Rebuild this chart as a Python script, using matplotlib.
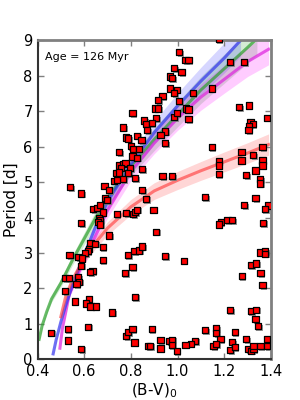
import matplotlib
matplotlib.use("Agg")
import matplotlib.pyplot as plt
import matplotlib.patheffects as pe

# ---- scatter data: (B-V)0 and rotation period [d] ----
bv = [
 0.807,0.856,0.866,0.869,0.767,0.779,0.787,0.827,0.846,0.799,0.810,0.836,0.749,0.807,0.827,0.749,
 0.767,0.777,0.757,0.796,0.847,0.736,0.749,0.788,0.817,0.767,0.727,0.739,0.539,0.587,0.687,0.707,
 0.848,0.689,0.697,0.864,0.639,0.657,0.667,0.679,0.664,0.667,0.659,0.667,0.587,0.739,0.779,0.810,
 0.818,0.826,0.707,0.627,0.647,0.619,0.615,0.679,0.603,0.537,0.576,0.589,0.679,0.586,0.636,0.626,
 0.519,0.536,0.574,0.577,0.567,0.519,0.774,0.787,0.816,0.836,0.847,0.807,0.559,0.619,0.607,0.627,
 0.649,0.719,0.817,0.529,0.617,0.459,0.529,0.587,0.779,0.787,0.807,0.816,0.874,
 1.176,1.007,1.034,1.047,1.224,1.285,0.985,1.017,0.967,0.976,0.967,0.996,1.146,0.985,1.065,0.936,
 0.917,1.007,0.904,0.916,1.036,1.047,1.264,1.305,0.907,0.985,0.996,1.047,1.384,0.889,0.947,0.927,
 0.946,1.146,1.313,1.322,1.305,1.304,1.274,1.324,1.364,1.176,1.176,1.274,1.364,1.364,1.176,1.295,
 1.334,0.936,0.976,1.354,1.354,1.117,1.334,1.285,1.390,1.374,0.897,1.185,1.176,1.214,1.235,1.365,
 0.907,0.946,1.026,1.354,1.374,1.376,1.314,1.335,1.355,1.275,1.364,1.224,1.314,1.335,1.334,1.344,
 0.889,1.117,1.165,1.165,1.245,1.295,1.384,1.184,0.927,0.964,0.976,1.075,1.056,1.034,1.235,1.154,
 1.165,0.881,0.927,0.976,0.996,1.225,1.245,1.304,1.315,1.325,1.325,1.355,1.384,
]
period = [
 6.95,6.74,6.65,6.46,6.54,6.26,6.23,6.31,6.18,6.01,5.93,5.93,5.84,5.72,5.69,5.47,
 5.52,5.54,5.40,5.40,5.37,5.25,5.27,5.26,5.11,5.09,5.04,5.07,4.86,4.68,4.90,4.77,
 4.77,4.54,4.50,4.53,4.24,4.27,4.35,4.14,3.97,3.92,3.88,3.80,3.85,4.10,4.13,4.10,
 4.16,4.22,3.49,3.27,3.26,3.12,3.05,3.16,3.00,2.94,2.88,2.84,2.79,2.64,2.48,2.46,
 2.29,2.29,2.31,2.19,2.13,1.93,2.44,2.94,3.05,3.07,3.18,2.61,1.63,1.70,1.57,1.49,
 1.49,1.32,1.76,0.85,0.92,0.75,0.53,0.29,0.66,0.76,0.85,0.47,0.38,
 9.03,8.67,8.44,8.44,8.39,8.39,8.21,8.10,7.98,7.93,7.64,7.61,7.64,7.52,7.52,7.43,
 7.31,7.29,7.08,7.08,7.08,7.05,7.11,7.16,6.80,6.84,6.94,6.77,6.82,6.67,6.43,6.34,
 6.10,5.99,6.68,6.64,6.59,6.46,5.86,5.76,5.98,5.58,5.47,5.61,5.61,5.47,5.23,5.19,
 5.33,5.17,5.17,5.08,4.96,4.58,4.54,4.35,4.34,4.23,4.22,3.88,3.80,3.93,3.93,3.85,
 3.60,2.92,2.78,3.01,3.04,2.98,2.66,2.70,2.43,2.35,2.09,1.38,1.36,1.40,1.14,0.93,
 0.86,0.82,0.88,0.74,0.77,0.57,0.56,0.57,0.54,0.51,0.55,0.52,0.44,0.41,0.48,0.38,
 0.42,0.38,0.30,0.40,0.23,0.25,0.35,0.29,0.24,0.29,0.38,0.38,0.38,
]

# ---- model curves ----
green_bv = [0.407,0.42,0.44,0.46,0.50,0.55,0.60,0.65,0.70,0.80,0.90,1.00,1.10,1.20,1.30,1.34]
green_p  = [0.56,0.95,1.35,1.70,2.15,2.80,3.40,4.00,4.55,5.45,6.20,6.90,7.60,8.20,8.80,9.05]
green_lo = [0.53,0.90,1.28,1.61,2.04,2.66,3.23,3.80,4.32,5.18,5.89,6.56,7.22,7.79,8.36,8.60]
green_hi = [0.59,1.00,1.42,1.79,2.26,2.94,3.57,4.20,4.78,5.72,6.51,7.25,7.98,8.61,9.24,9.50]

blue_bv = [0.467,0.48,0.50,0.52,0.55,0.60,0.65,0.70,0.80,0.90,1.00,1.10,1.20,1.27]
blue_p  = [0.15,0.55,1.05,1.50,2.10,2.95,3.75,4.45,5.50,6.40,7.15,7.85,8.50,9.00]
blue_lo = [0.14,0.52,1.00,1.43,2.00,2.80,3.56,4.23,5.23,6.08,6.79,7.46,8.08,8.55]
blue_hi = [0.16,0.58,1.10,1.58,2.21,3.10,3.94,4.67,5.78,6.72,7.51,8.24,8.93,9.45]

mag_bv = [0.496,0.507,0.522,0.536,0.60,0.70,0.80,0.90,1.00,1.10,1.20,1.30,1.39]
mag_p  = [0.31,0.88,1.36,1.83,2.80,4.20,5.30,6.10,6.80,7.40,7.90,8.40,8.75]
mag_lo = [0.29,0.84,1.29,1.74,2.66,3.99,5.04,5.80,6.46,7.03,7.51,7.98,8.31]
mag_hi = [0.33,0.92,1.43,1.92,2.94,4.41,5.57,6.41,7.14,7.77,8.30,8.82,9.19]

red_bv = [0.50,0.52,0.55,0.60,0.65,0.70,0.80,0.90,1.00,1.10,1.20,1.30,1.39]
red_p  = [1.20,1.75,2.25,2.85,3.30,3.70,4.30,4.75,5.05,5.32,5.57,5.82,6.06]
red_lo = [1.14,1.66,2.14,2.71,3.13,3.51,4.08,4.51,4.79,5.05,5.29,5.53,5.76]
red_hi = [1.26,1.84,2.36,2.99,3.46,3.88,4.51,4.98,5.30,5.58,5.85,6.11,6.36]

xticks = [0.4,0.6,0.8,1.0,1.2,1.4]
yticks = [0,1,2,3,4,5,6,7,8,9]

fig = plt.figure(figsize=(3,4), dpi=100)
ax = fig.add_axes([0.125,0.102,0.778,0.797])

ax.fill_between(green_bv, green_lo, green_hi, color='#2ca02c', alpha=0.2, lw=0)
ax.fill_between(blue_bv, blue_lo, blue_hi, color='#3333ff', alpha=0.2, lw=0)
ax.fill_between(mag_bv, mag_lo, mag_hi, color='#ff00ff', alpha=0.2, lw=0)
ax.fill_between(red_bv, red_lo, red_hi, color='#ff3333', alpha=0.2, lw=0)
ax.plot(green_bv, green_p, color='#2ca02c', lw=2.2, alpha=0.7)
ax.plot(mag_bv, mag_p, color='#dd22dd', lw=2.2, alpha=0.7)
ax.plot(blue_bv, blue_p, color='#3333ee', lw=2.2, alpha=0.7)
ax.plot(red_bv, red_p, color='#ff3333', lw=2.2, alpha=0.6)

sc = ax.scatter(bv, period, marker='s', s=20, c='red', edgecolors='black', linewidths=0.9, zorder=5)
sc.set_path_effects([pe.SimplePatchShadow(offset=(1.2,-1.2), shadow_rgbFace='gray', alpha=0.8), pe.Normal()])

ax.set_xlim(0.4,1.4)
ax.set_ylim(0,9)
ax.set_xticks(xticks)
ax.set_yticks(yticks)
ax.tick_params(direction='in', length=4, width=1, colors='gray', labelcolor='black', labelsize=10.5,
               top=True, right=True)
for s in ['top','right']:
    ax.spines[s].set_color('gray')
    ax.spines[s].set_linewidth(2)
for s in ['left','bottom']:
    ax.spines[s].set_color('#333333')
    ax.spines[s].set_linewidth(1.5)
ax.set_xlabel('(B-V)$_0$', fontsize=11, labelpad=2)
ax.set_ylabel('Period [d]', fontsize=11, labelpad=3)
ax.text(0.03, 0.965, 'Age = 126 Myr', transform=ax.transAxes, fontsize=8, va='top', ha='left')

fig.savefig('out.png', dpi=100)
